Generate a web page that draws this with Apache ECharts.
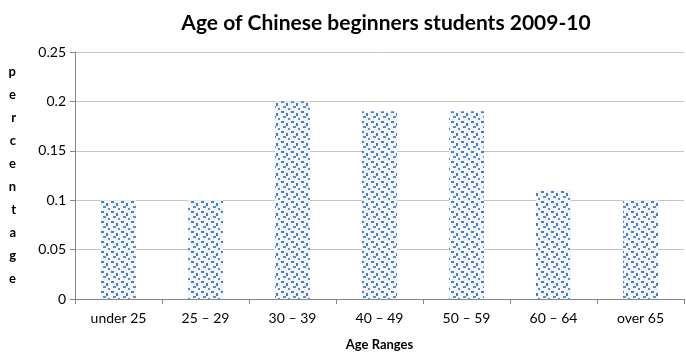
<!DOCTYPE html>
<html lang="en">
<head>
    <meta charset="UTF-8">
    <title>Age of Chinese beginners students</title>
    <script src="https://cdn.jsdelivr.net/npm/echarts@6/dist/echarts.min.js"></script>
    <style>
        html, body { margin: 0; padding: 0; background: #fff; }
        #chart { width: 686px; height: 356px; }
    </style>
</head>
<body>
<div id="chart"></div>
<script>
    // data
    var ageRanges = ['under 25', '25 \u2013 29', '30 \u2013 39', '40 \u2013 49', '50 \u2013 59', '60 \u2013 64', 'over 65'];
    var percentages = [0.1, 0.1, 0.2, 0.19, 0.19, 0.11, 0.1];

    // dotted fill like the original bars
    function dotPattern() {
        var c = document.createElement('canvas');
        c.width = 10;
        c.height = 10;
        var ctx = c.getContext('2d');
        ctx.fillStyle = '#f2f6fb';
        ctx.fillRect(0, 0, 10, 10);
        ctx.fillStyle = '#4a7ebb';
        ctx.fillRect(1, 1, 3, 2);
        ctx.fillRect(6, 3, 2, 3);
        ctx.fillStyle = '#5b8cc8';
        ctx.fillRect(3, 6, 3, 2);
        ctx.fillRect(8, 8, 2, 2);
        return c;
    }

    var font = 'Lato, "Open Sans", sans-serif';
    var myChart = echarts.init(document.getElementById('chart'));

    var option = {
        animation: false,
        title: {
            text: 'Age of Chinese beginners students 2009-10',
            left: 381,
            textAlign: 'center',
            top: 8,
            textStyle: { fontFamily: font, fontSize: 21, fontWeight: 'bold', color: '#000' }
        },
        grid: { left: 75, right: 2, top: 52, bottom: 51 },
        xAxis: {
            type: 'category',
            data: ageRanges,
            name: 'Age Ranges',
            nameLocation: 'middle',
            nameGap: 39,
            nameTextStyle: { fontFamily: font, fontSize: 13, fontWeight: 'bold', color: '#000' },
            axisLine: { lineStyle: { color: '#868686', width: 1 } },
            axisTick: { show: true, length: 5, lineStyle: { color: '#868686' } },
            axisLabel: { fontFamily: font, fontSize: 14, color: '#000', margin: 12 }
        },
        yAxis: {
            type: 'value',
            min: 0,
            max: 0.25,
            interval: 0.05,
            name: 'percentage'.split('').join('\n'),
            nameLocation: 'middle',
            nameRotate: 0,
            nameGap: 59,
            nameTextStyle: { fontFamily: font, fontSize: 13, fontWeight: 'bold', color: '#000', lineHeight: 23 },
            axisLine: { show: true, lineStyle: { color: '#868686', width: 1 } },
            axisTick: { show: true, length: 5, lineStyle: { color: '#868686' } },
            axisLabel: { fontFamily: font, fontSize: 14, color: '#000', margin: 9 },
            splitLine: { show: true, lineStyle: { color: '#c4c4c4', width: 1 } }
        },
        series: [{
            name: 'percentage',
            type: 'bar',
            data: percentages,
            barWidth: 35,
            itemStyle: {
                color: { image: dotPattern(), repeat: 'repeat' }
            }
        }]
    };
    myChart.setOption(option);
</script>
</body>
</html>
